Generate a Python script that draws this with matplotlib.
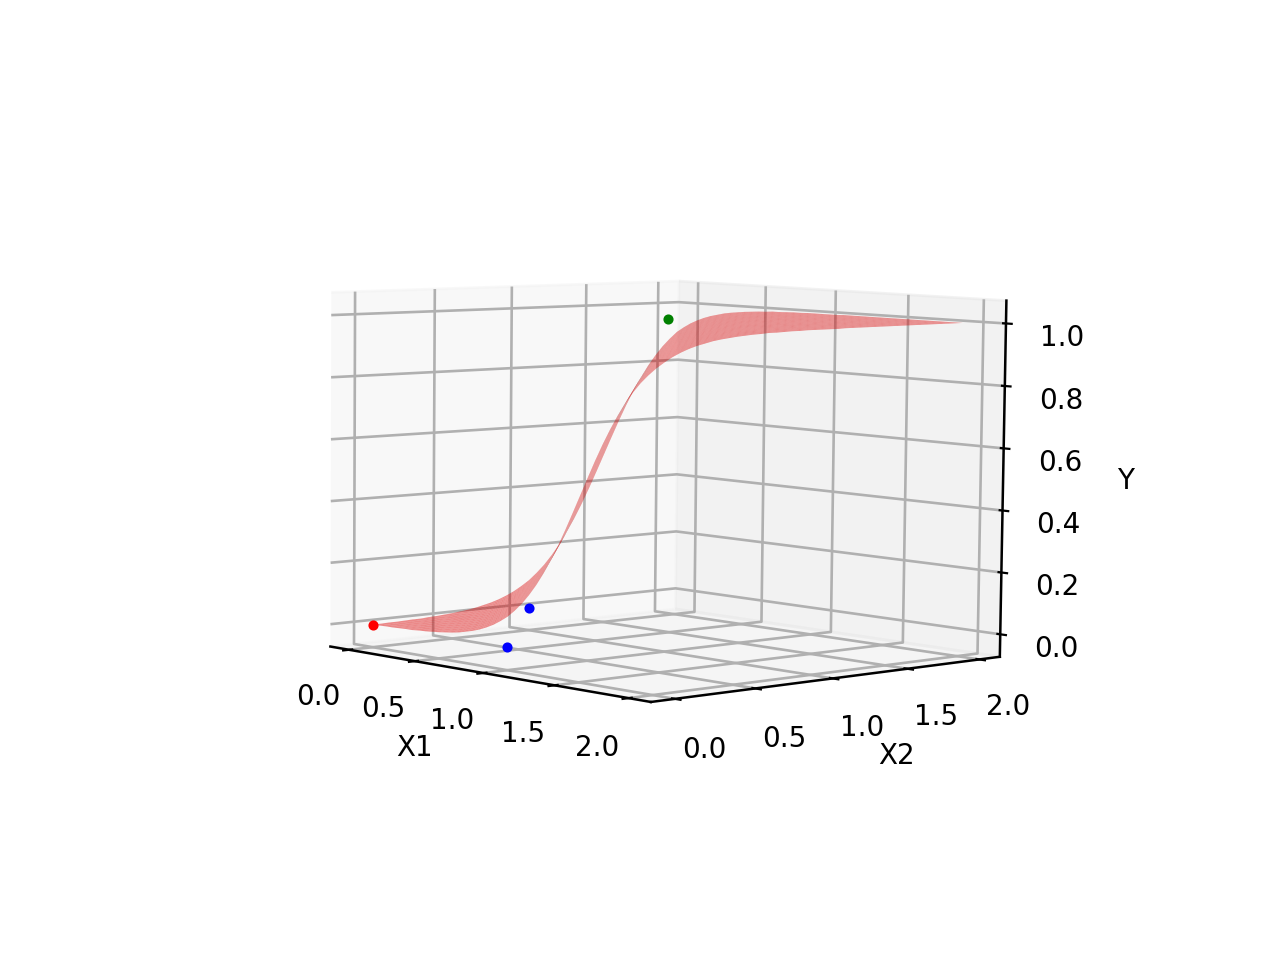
import numpy as np
import matplotlib
matplotlib.use("Agg")
import matplotlib.pyplot as plt

plt.rcParams["grid.linewidth"] = 0.95
plt.rcParams["axes.linewidth"] = 0.9

# Surface height read along x1 + x2 = 0, 0.05, 0.10, ... 4.00
y_profile = [
    0.001, 0.001, 0.002, 0.002, 0.003, 0.004, 0.004, 0.006, 0.007, 0.009,
    0.011, 0.014, 0.017, 0.021, 0.027, 0.033, 0.041, 0.051, 0.063, 0.078,
    0.095, 0.117, 0.142, 0.172, 0.206, 0.245, 0.289, 0.337, 0.389, 0.444,
    0.500, 0.556, 0.611, 0.663, 0.711, 0.755, 0.794, 0.828, 0.858, 0.883,
    0.905, 0.922, 0.937, 0.949, 0.959, 0.967, 0.973, 0.979, 0.983, 0.986,
    0.989, 0.991, 0.993, 0.994, 0.996, 0.996, 0.997, 0.998, 0.998, 0.999,
    0.999, 0.999, 0.999, 0.999, 1.000, 1.000, 1.000, 1.000, 1.000, 1.000,
    1.000, 1.000, 1.000, 1.000, 1.000, 1.000, 1.000, 1.000, 1.000, 1.000,
    1.000,
]
grid_x = [i / 20 for i in range(41)]

red_x1, red_x2, red_y = [0], [0], [0]
blue_x1, blue_x2, blue_y = [1, 0], [0, 1], [0, 0]
green_x1, green_x2, green_y = [1], [1], [1]

profile = np.array(y_profile)
idx = np.arange(len(grid_x))
I, J = np.meshgrid(idx, idx, indexing="ij")
X1, X2 = np.meshgrid(grid_x, grid_x, indexing="ij")
Y = profile[I + J]

fig = plt.figure(figsize=(6.4, 4.8), dpi=200)
ax = fig.add_subplot(projection="3d", computed_zorder=False)
ax.plot_surface(X1, X2, Y, color="#dc0000", alpha=0.45, rcount=41, ccount=41,
                shade=False, linewidth=0, zorder=1)
for xs, ys, zs, c in [(red_x1, red_x2, red_y, "red"),
                      (blue_x1, blue_x2, blue_y, "blue"),
                      (green_x1, green_x2, green_y, "green")]:
    ax.scatter(xs, ys, zs, c=c, s=7, depthshade=False, zorder=2)
ax.set_xlabel("X1")
ax.set_ylabel("X2")
ax.set_zlabel("Y")
ax.set_xticks([0, 0.5, 1, 1.5, 2])
ax.set_yticks([0, 0.5, 1, 1.5, 2])
ax.set_zticks([0, 0.2, 0.4, 0.6, 0.8, 1.0])
ax.view_init(elev=5.4, azim=-43, roll=-0.6)
fig.savefig("out.png", dpi=200)
